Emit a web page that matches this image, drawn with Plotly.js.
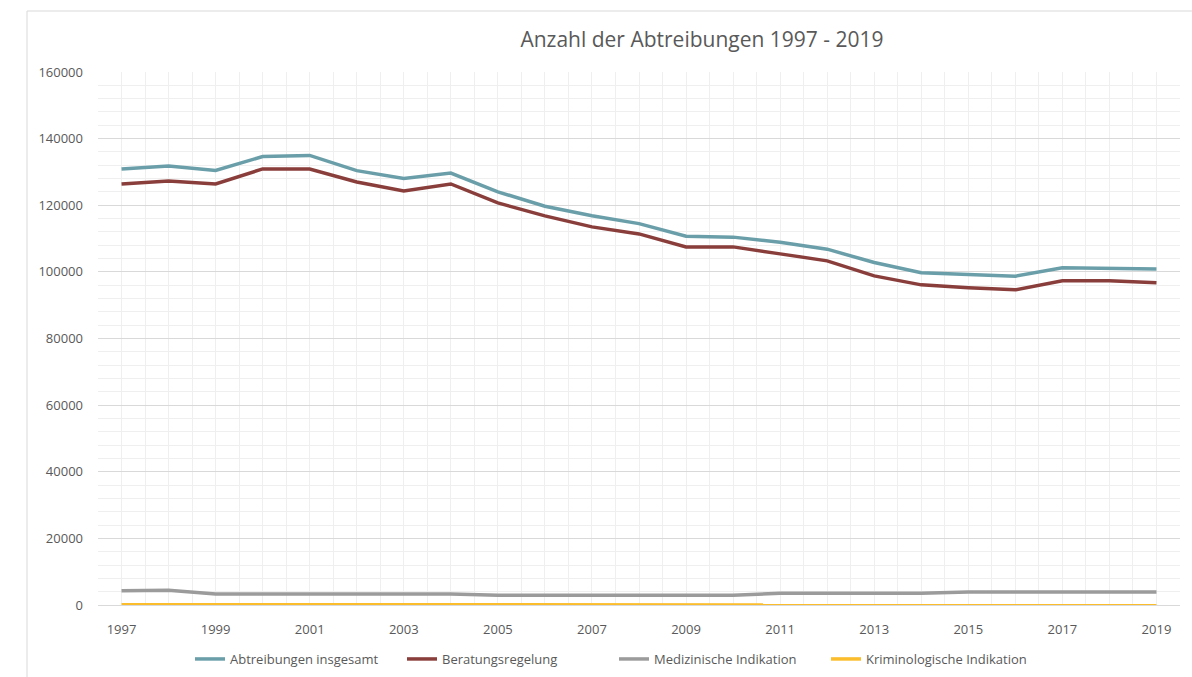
<!DOCTYPE html>
<html>
<head>
<meta charset="utf-8">
<script src="https://cdn.plot.ly/plotly-3.0.1.min.js"></script>
<style>html,body{margin:0;padding:0;background:#fff;}#chart{width:1192px;height:677px;}</style>
</head>
<body>
<div id="chart"></div>
<script>
const years = [1997,1998,1999,2000,2001,2002,2003,2004,2005,2006,2007,2008,2009,2010,2011,2012,2013,2014,2015,2016,2017,2018,2019];
const insgesamt = [130890,131795,130471,134609,134964,130387,128030,129650,124023,119710,116871,114484,110694,110431,108867,106815,102802,99715,99237,98721,101209,100986,100893];
const beratung = [126400,127300,126400,130900,130900,127000,124300,126400,120700,116800,113500,111400,107500,107500,105400,103300,98800,96100,95200,94600,97300,97300,96700];
const medizinisch = [4300,4400,3300,3300,3300,3300,3300,3300,2900,2900,2900,2900,2900,2900,3500,3500,3500,3500,3900,3900,3900,3900,3900];
const kriminologisch = [60,50,40,40,40,40,40,40,30,30,30,30,10,30,30,30,30,30,20,20,20,20,20];
const seriesNames = ["Abtreibungen insgesamt","Beratungsregelung","Medizinische Indikation","Kriminologische Indikation"];
const seriesColors = ["#6a9fa9","#8a3e3b","#9b9b9b","#fbbd2c"];
const xTickVals = [1997,1999,2001,2003,2005,2007,2009,2011,2013,2015,2017,2019];

const FONT = "'Open Sans', sans-serif";
const data = [insgesamt, beratung, medizinisch, kriminologisch].map((v,i)=>({
  x: years, y: v, type:'scatter', mode:'lines', name: seriesNames[i],
  line:{color: seriesColors[i], width:3.5}, hoverinfo:'x+y'
}));

const layout = {
  width:1192, height:677,
  margin:{l:98, r:12, t:72, b:72, autoexpand:false},
  paper_bgcolor:'#fff', plot_bgcolor:'#fff',
  font:{family:FONT, color:'#595959', size:13},
  title:{text:'Anzahl der Abtreibungen 1997 - 2019', font:{size:21, color:'#595959', family:FONT},
         x:702/1192, xanchor:'center', xref:'container', y:(677-40)/677, yanchor:'middle', yref:'container'},
  xaxis:{
    range:[1996.5,2019.5], tickmode:'array', tickvals:xTickVals, ticktext:xTickVals.map(String),
    showgrid:true, gridcolor:'#efefef', gridwidth:1,
    minor:{tick0:1996.5, dtick:0.5, showgrid:true, gridcolor:'#efefef', gridwidth:1, ticks:''},
    showline:true, linecolor:'#d9d9d9', linewidth:1,
    zeroline:false, ticks:'', ticklabelstandoff:12, automargin:false,
    tickfont:{size:13, color:'#595959'}
  },
  yaxis:{
    range:[0,160000], dtick:20000, tick0:0, tickformat:'d',
    showgrid:true, gridcolor:'#d9d9d9', gridwidth:1,
    minor:{dtick:4000, showgrid:true, gridcolor:'#efefef', gridwidth:1, ticks:''},
    zeroline:false, showline:false, ticks:'', ticklabelstandoff:14, automargin:false,
    tickfont:{size:13, color:'#595959'}
  },
  showlegend:true,
  legend:{orientation:'h', x:(190-98)/1082, xanchor:'left', y:(605-659)/533, yanchor:'middle',
          entrywidth:167, entrywidthmode:'pixels',
          font:{size:13, color:'#595959'}, itemwidth:30, tracegroupgap:0, bgcolor:'rgba(0,0,0,0)'},
  shapes:[{type:'rect', xref:'paper', yref:'paper',
           x0:(27-98)/1082, x1:(1210-98)/1082, y0:(605-700)/533, y1:(605-11)/533,
           line:{color:'#d9d9d9', width:1}, fillcolor:'rgba(0,0,0,0)', layer:'below'}]
};
Plotly.newPlot('chart', data, layout, {displayModeBar:false, staticPlot:true});
</script>
</body>
</html>
